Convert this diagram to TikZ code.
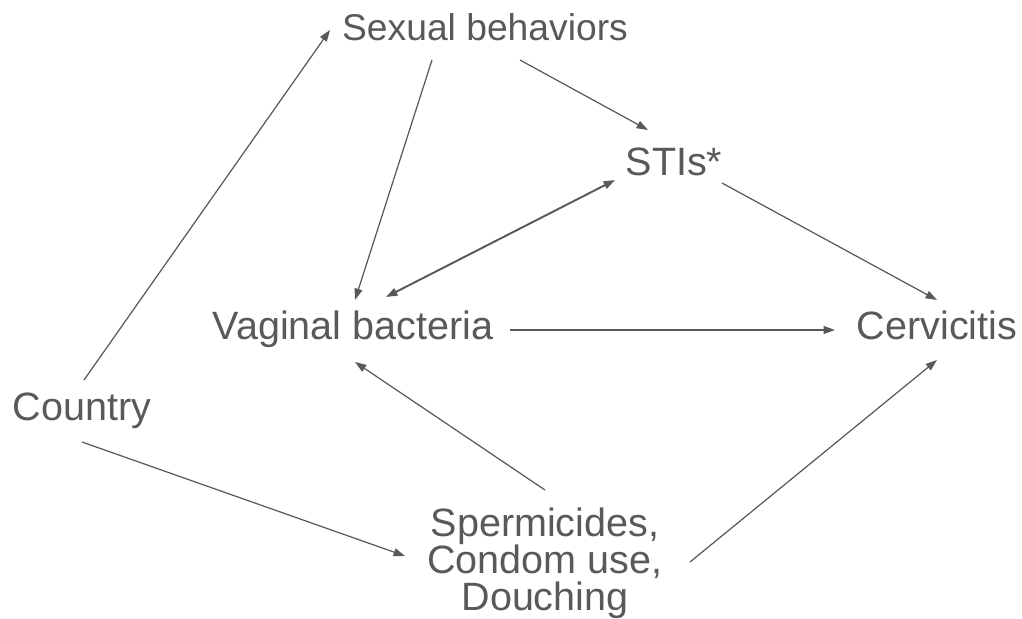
\documentclass[tikz,border=0pt]{standalone}
\usepackage{fontspec}
\setmainfont{Liberation Sans}
\usetikzlibrary{arrows.meta, calc}
\definecolor{ink}{HTML}{595959}

\begin{document}
\begin{tikzpicture}[x=0.02cm, y=-0.02cm, >={Triangle[length=6.5pt, width=4.5pt]},
    var/.style={inner sep=0pt, text=ink, font=\fontsize{22.5}{21}\selectfont, align=center},
    link/.style={->, draw=ink, line width=0.7pt}]
  \useasboundingbox (0,0) rectangle (1022,619);

  % variables
  \node[var, anchor=base, font=\fontsize{21.2}{21}\selectfont] (sex) at (485,40) {Sexual behaviors};
  \node[var, anchor=base] (sti) at (674,175) {STIs*};
  \node[var, anchor=base] (vag) at (353,339) {Vaginal bacteria};
  \node[var, anchor=base] (cerv) at (937,339) {Cervicitis};
  \node[var, anchor=base] (ctry) at (82,420) {Country};
  \node[var] (sperm) at (545,563) {Spermicides,\\Condom use,\\Douching};

  % paths
  \draw[link] ($(ctry.base)+(2,-40)$) -- ($(sex.base)+(-155,-10)$);
  \draw[link] ($(sex.base)+(-53,20)$) -- ($(vag.base)+(2,-39)$);
  \draw[link] ($(sex.base)+(35,20)$) -- ($(sti.base)+(-26,-45)$);
  \draw[link, <->, line width=1.1pt] ($(vag.base)+(33,-42)$) -- ($(sti.base)+(-59,5)$);
  \draw[link] ($(sti.base)+(48,8)$) -- ($(cerv.base)+(0,-39)$);
  \draw[link] ($(vag.base)+(157,-9)$) -- ($(cerv.base)+(-102,-9)$);
  \draw[link] ($(sperm.center)+(0,-73)$) -- ($(vag.base)+(2,23)$);
  \draw[link] ($(ctry.base)+(0,22)$) -- ($(sperm.center)+(-140,-7)$);
  \draw[link] ($(sperm.center)+(145,-1)$) -- ($(cerv.base)+(0,21)$);
\end{tikzpicture}
\end{document}
